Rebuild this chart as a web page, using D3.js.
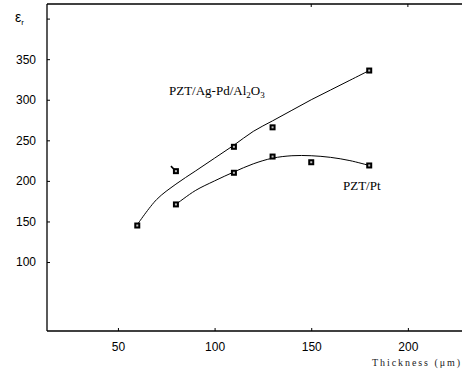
<!DOCTYPE html>
<html>
<head>
<meta charset="utf-8">
<script src="https://cdn.jsdelivr.net/npm/d3@7"></script>
<style>
  body { margin: 0; background: #fff; }
  svg { display: block; }
</style>
</head>
<body>
<div id="chart"></div>
<script>
// measured points (thickness in um, relative permittivity)
var agpdThick = [60, 80, 110, 130, 180];
var agpdEps = [145, 212, 242, 266, 336];
var ptThick = [80, 110, 130, 150, 180];
var ptEps = [171, 210, 230, 223, 219];

// fitted curves
var agpdFitX = [60, 70, 80, 90, 100, 110, 120, 130, 140, 150, 160, 170, 180];
var agpdFitY = [146, 177, 196, 212, 228, 244, 261, 274, 287, 300, 312, 324, 336];
var ptFitX = [80, 90, 100, 110, 120, 130, 140, 150, 160, 170, 180];
var ptFitY = [171, 188, 200, 211, 221, 228, 231, 231, 229, 225, 219];

var xTicks = [50, 100, 150, 200];
var yTicks = [100, 150, 200, 250, 300, 350, 400];
var yTickLabels = ["100", "150", "200", "250", "300", "350", ""];

var width = 462, height = 372;

var svg = d3.select("#chart")
    .append("svg")
    .attr("width", width)
    .attr("height", height)

var x = d3.scaleLinear().domain([13.3, 228]).range([47, 462]);
var y = d3.scaleLinear().domain([15, 418]).range([331, 4]);

// frame lines: left, top, bottom
svg.append("line").attr("x1", 47).attr("x2", 47).attr("y1", 4).attr("y2", 331)
    .attr("stroke", "#000").attr("stroke-width", 1.3);
svg.append("line").attr("x1", 47).attr("x2", 462).attr("y1", 4).attr("y2", 4)
    .attr("stroke", "#000").attr("stroke-width", 1.3);
svg.append("line").attr("x1", 47).attr("x2", 462).attr("y1", 331).attr("y2", 331)
    .attr("stroke", "#000").attr("stroke-width", 1.3);

var yAxis = d3.axisLeft(y)
    .tickValues(yTicks)
    .tickSize(-3)
    .tickPadding(11)
    .tickFormat(function(d, i) { return yTickLabels[i]; });

var gy = svg.append("g")
    .attr("transform", "translate(47,0)")
    .call(yAxis);
gy.select(".domain").remove();

var xAxis = d3.axisBottom(x)
    .tickValues(xTicks)
    .tickSize(-3)
    .tickPadding(11);

var gx = svg.append("g")
    .attr("transform", "translate(0,331)")
    .call(xAxis);
gx.select(".domain").remove();

// small ticks along the top edge
svg.selectAll(".toptick")
    .data(xTicks.filter(function(d) { return d >= 150; }))
    .enter()
    .append("line")
    .attr("x1", function(d) { return x(d); })
    .attr("x2", function(d) { return x(d); })
    .attr("y1", 4).attr("y2", 7)
    .attr("stroke", "#000");

svg.selectAll(".tick text")
    .attr("font-family", "Liberation Sans, Arial, sans-serif")
    .attr("font-size", 12)
    .attr("fill", "#000");
svg.selectAll(".tick line").attr("stroke", "#000");

var line = d3.line()
    .x(function(d) { return x(d[0]); })
    .y(function(d) { return y(d[1]); })
    .curve(d3.curveCatmullRom.alpha(0.5));

svg.append("path")
    .datum(d3.zip(agpdFitX, agpdFitY))
    .attr("d", line)
    .attr("fill", "none")
    .attr("stroke", "#000")
    .attr("stroke-width", 1);

svg.append("path")
    .datum(d3.zip(ptFitX, ptFitY))
    .attr("d", line)
    .attr("fill", "none")
    .attr("stroke", "#000")
    .attr("stroke-width", 1);

var pts = d3.zip(agpdThick, agpdEps).concat(d3.zip(ptThick, ptEps));

// little scan mark beside the 80 um point
svg.append("path")
    .attr("d", "M" + (x(80) - 5) + "," + (y(212) - 5) + " L" + x(80) + "," + y(212))
    .attr("stroke", "#000")
    .attr("stroke-width", 1.5);

var marks = svg.selectAll(".pt")
    .data(pts)
    .enter()
    .append("g")
    .attr("transform", function(d) { return "translate(" + x(d[0]) + "," + y(d[1]) + ")"; });

marks.append("rect")
    .attr("x", -3).attr("y", -3)
    .attr("width", 6).attr("height", 6)
    .attr("fill", "#000");

marks.append("rect")
    .attr("x", -1).attr("y", -1)
    .attr("width", 2).attr("height", 2)
    .attr("fill", "#bbb");

// labels
var eps = svg.append("text")
    .attr("x", 15).attr("y", 22)
    .attr("font-family", "Liberation Sans, Arial, sans-serif")
    .attr("font-size", 14)
    .text("ε");
eps.append("tspan")
    .attr("font-size", 8)
    .attr("dy", 3)
    .text("r");

var s1 = svg.append("text")
    .attr("x", 169).attr("y", 95)
    .attr("font-family", "Liberation Serif, Times New Roman, serif")
    .attr("font-size", 13)
    .text("PZT/Ag-Pd/Al");
s1.append("tspan").attr("font-size", 9).attr("dy", 3).text("2");
s1.append("tspan").attr("dy", -3).text("O");
s1.append("tspan").attr("font-size", 9).attr("dy", 3).text("3");

svg.append("text")
    .attr("x", 343).attr("y", 190)
    .attr("font-family", "Liberation Serif, Times New Roman, serif")
    .attr("font-size", 13)
    .text("PZT/Pt");

svg.append("text")
    .attr("x", 372).attr("y", 366)
    .attr("font-family", "Liberation Serif, Times New Roman, serif")
    .attr("font-size", 10)
    .attr("font-weight", 300)
    .attr("fill", "#222")
    .attr("textLength", 88)
    .attr("lengthAdjust", "spacing")
    .text("Thickness (μm)");
</script>
</body>
</html>
